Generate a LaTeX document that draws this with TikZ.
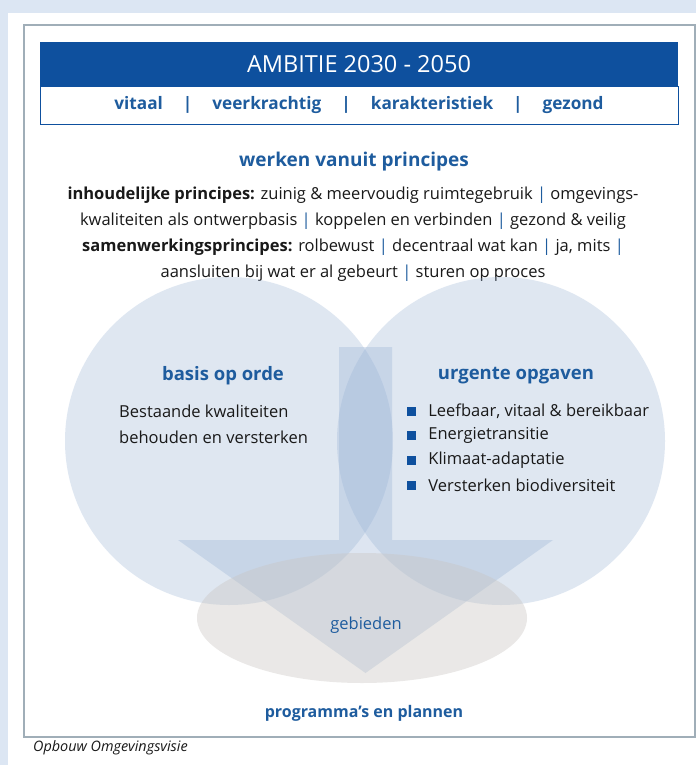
\documentclass[tikz,border=0pt]{standalone}
\usepackage{fontspec}
\setmainfont{Open Sans}
\usepackage{tikz}
\usetikzlibrary{
    positioning
}
\definecolor{bannerblue}{RGB}{14,80,158}
\definecolor{textblue}{RGB}{30,92,158}
\definecolor{pageblue}{RGB}{220,230,243}
\definecolor{framegray}{RGB}{160,174,184}
\definecolor{bubbleblue}{RGB}{152,178,213}
\definecolor{areagray}{RGB}{200,196,192}
\definecolor{bodytext}{RGB}{25,25,25}
\newcommand{\pipe}{\textcolor{textblue}{|}}
\newcommand{\vsep}{\hspace{20pt}|\hspace{20pt}}

\begin{document}
\begin{tikzpicture}[x=1pt, y=-1pt,
    bubble/.style={circle, inner sep=0pt, minimum size=328pt, fill=bubbleblue, fill opacity=0.31},
    heading/.style={text=textblue, font=\fontsize{18.5}{22}\selectfont\bfseries, inner sep=0pt},
    body/.style={text=bodytext, font=\fontsize{16.5}{26}\selectfont, inner sep=0pt},
    bulletsq/.style={fill=bannerblue, minimum size=9pt, inner sep=0pt}
]
\useasboundingbox (0,0) rectangle (696,765);
\fill[pageblue] (0,0) rectangle (696,765);
\fill[white] (8,13) rectangle (696,765);
\draw[framegray, line width=1.3pt] (24,25) rectangle (695,737);

\fill[bannerblue] (40,42) rectangle (678,86);
\draw[bannerblue, line width=0.8pt] (40,86) rectangle (678,124);
\node[text=white, font=\fontsize{23.5}{28}\selectfont, inner sep=0pt] (ambitie) at (359,64) {AMBITIE 2030 - 2050};
\node[heading, font=\fontsize{17.2}{20}\selectfont\bfseries] (waarden) at (359,105)
    {vitaal\vsep veerkrachtig\vsep karakteristiek\vsep gezond};

\node[heading, font=\fontsize{19}{22}\selectfont\bfseries] (principes) at (354,162) {werken vanuit principes};
\node[body, align=center, anchor=north] (principetekst) at (353,187)
    {\textbf{inhoudelijke principes:} zuinig \& meervoudig ruimtegebruik \pipe{} omgevings-\\
     kwaliteiten als ontwerpbasis \pipe{} koppelen en verbinden \pipe{} gezond \& veilig\\
     \textbf{samenwerkingsprincipes:} rolbewust \pipe{} decentraal wat kan \pipe{} ja, mits \pipe\\
     aansluiten bij wat er al gebeurt \pipe{} sturen op proces};

\node[bubble] (basis) at (229,441) {};
\node[bubble] (urgent) at (501,441) {};
\fill[bubbleblue, fill opacity=0.33] (339,347) -- (392,347) -- (392,540) -- (553,540)
    -- (365.5,673) -- (178,540) -- (339,540) -- cycle;
\fill[areagray, fill opacity=0.38] (362,618) ellipse (165 and 65);

\node[heading] (basistitel) at (223,376) {basis op orde};
\node[body, align=left, anchor=west] (basistekst) at (119,424)
    {Bestaande kwaliteiten\\behouden en versterken};

\node[heading] (urgenttitel) at (516,376) {urgente opgaven};
\foreach \i/\opgave in {0/{Leefbaar, vitaal \& bereikbaar}, 1/Energietransitie,
                        2/Klimaat-adaptatie, 3/Versterken biodiversiteit} {
    \node[bulletsq] (b\i) at (411.5,411+24.7*\i) {};
    \node[body, anchor=west, right=12pt of b\i] (t\i) {\opgave};
}

\node[heading, font=\fontsize{16.5}{20}\selectfont] (gebieden) at (366,625) {gebieden};
\node[heading, font=\fontsize{16}{20}\selectfont\bfseries] (programma) at (364,713) {programma’s en plannen};
\node[text=bodytext, font=\fontsize{14.4}{18}\selectfont\itshape, anchor=west, inner sep=0pt] (bijschrift) at (33,748) {Opbouw Omgevingsvisie};
\end{tikzpicture}
\end{document}
